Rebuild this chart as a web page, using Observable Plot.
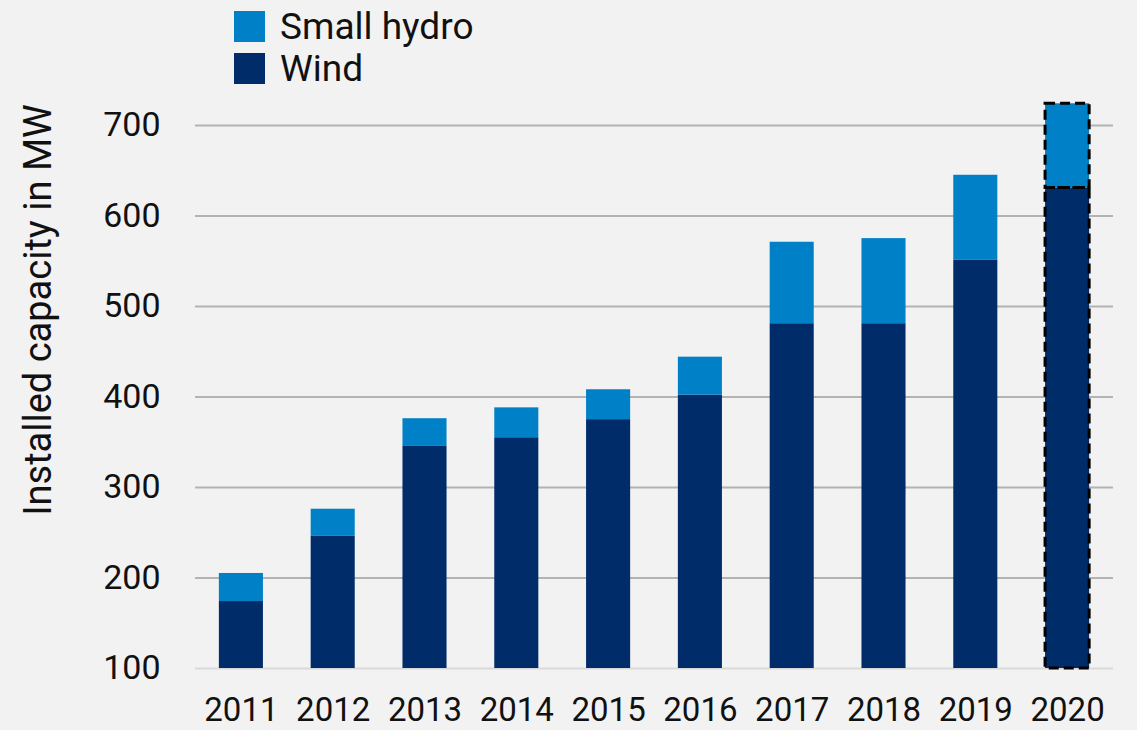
<!DOCTYPE html>
<html><head><meta charset="utf-8">
<script src="https://cdn.jsdelivr.net/npm/d3@7"></script>
<script src="https://cdn.jsdelivr.net/npm/@observablehq/plot@0.6"></script>
<style>
body{margin:0;background:#f2f2f2;font-family:Roboto,sans-serif;}
#legend{position:relative;height:95px;width:1137px;}
.item{position:absolute;left:234px;display:flex;align-items:center;font-size:37px;color:#111;line-height:31px;}
.sw{width:31px;height:31px;margin-right:15px;}
</style></head><body>
<div id="legend"></div><div id="chart"></div>
<script>
const years = ["2011","2012","2013","2014","2015","2016","2017","2018","2019","2020"];
const wind = [174,246,346,355,375,402,481,481,551,631];
const smallHydro = [31,30,30,33,33,42,90,94,94,93];
const seriesNames = ["Small hydro","Wind"];
const seriesColors = ["#0080c6","#002d69"];
const yTicks = [100,200,300,400,500,600,700];
const baseValue = 100;
const projectedYear = "2020";
const yLabel = "Installed capacity in MW";

const rows = [];
years.forEach((yr,i)=>{
  rows.push({year:yr, series:"Wind", y1:baseValue, y2:wind[i]});
  rows.push({year:yr, series:"Small hydro", y1:wind[i], y2:wind[i]+smallHydro[i]});
});

const leg = document.getElementById("legend");
seriesNames.forEach((s,i)=>{
  const d = document.createElement("div");
  d.className="item"; d.style.top = (11 + i*42) + "px";
  d.innerHTML = `<div class="sw" style="background:${seriesColors[i]}"></div><span>${s}</span>`;
  leg.appendChild(d);
});

const chart = Plot.plot({
  width:1137, height:635,
  marginLeft:195, marginRight:24, marginTop:30, marginBottom:62,
  style:{background:"#f2f2f2", color:"#111", fontFamily:"Roboto, sans-serif"},
  x:{domain:years, paddingInner:0.52, paddingOuter:0.26, round:false, label:null},
  y:{domain:[100,700], label:null},
  color:{domain:seriesNames, range:seriesColors},
  marks:[
    Plot.gridY(yTicks.filter(t=>t>baseValue), {stroke:"#b3b3b3", strokeOpacity:1, strokeWidth:2}),
    Plot.ruleY([baseValue], {stroke:"#d9d9d9", strokeWidth:2}),
    Plot.barY(rows, {x:"year", y1:"y1", y2:"y2", fill:"series"}),
    Plot.barY(rows.filter(r=>r.year===projectedYear), {x:"year", y1:"y1", y2:"y2", fill:"none", stroke:"#000", strokeWidth:3, strokeDasharray:"10,5"}),
    Plot.axisY({ticks:yTicks, tickSize:0, tickPadding:35, fontSize:34, label:null}),
    Plot.axisX({tickSize:0, tickPadding:29, fontSize:33, label:null}),
    Plot.text([yLabel], {frameAnchor:"left", rotate:-90, dx:-157, dy:-87, fontSize:38, textAnchor:"middle", fill:"#111"})
  ]
});
document.getElementById("chart").appendChild(chart);
</script>
</body></html>
